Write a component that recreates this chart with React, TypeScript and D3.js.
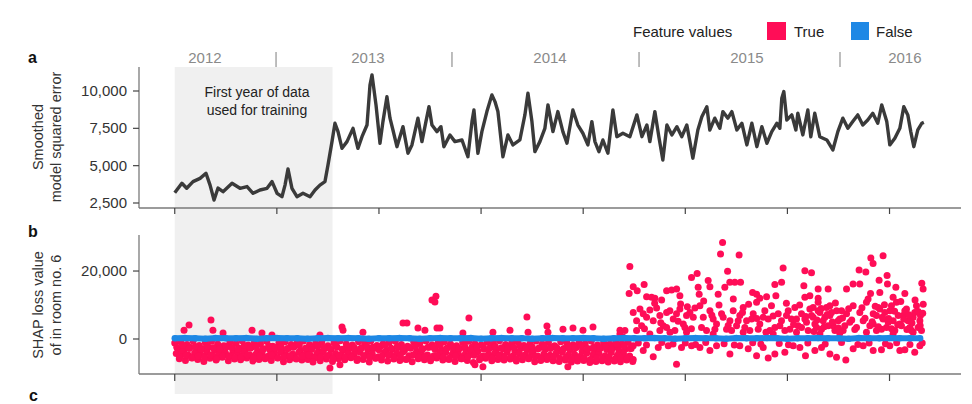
import React from "react";
import * as d3 from "d3";

// ---------- data ----------
const xTicks = [0, 1000, 2000, 3000, 4000, 5000, 6000, 7000];
const errorTicks = [2500, 5000, 7500, 10000];
const shapTicks = [0, 20];
const years = ["2012", "2013", "2014", "2015", "2016"];
const yearCenters = [296, 1892, 3675, 5604, 7150];
const yearSeparators = [992, 2715, 4547, 6515];
const trainingEnd = 1545;

// smoothed model squared error: [sample index, value]
const errorPoints: [number, number][] = [
[0,3190],[70,3820],[117,3485],[179,3930],[248,4150],[306,4490],[346,3700],[385,2700],[424,3500],[473,3260],[561,3820],[639,3485],[708,3600],[767,3150],[835,3370],[904,3485],[953,3930],[1002,3150],[1050,2920],[1080,3700],[1109,4780],[1148,3485],[1197,2920],[1256,3150],[1325,2920],[1374,3370],[1422,3700],[1471,3930],[1501,5050],[1540,6610],[1569,7840],[1599,7280],[1638,6160],[1687,6610],[1746,7500],[1794,6160],[1834,6940],[1883,7720],[1912,10400],[1932,11080],[1971,9070],[2010,6500],[2039,7950],[2078,9620],[2108,8180],[2137,7390],[2176,6270],[2235,7610],[2284,5830],[2323,6390],[2382,8180],[2421,6610],[2460,7950],[2490,8950],[2519,7720],[2568,7280],[2607,7610],[2636,6270],[2695,7060],[2744,6610],[2813,6720],[2871,5600],[2911,7950],[2930,8730],[2969,5830],[3008,7280],[3057,8620],[3106,9740],[3136,9290],[3165,8620],[3214,5600],[3263,7060],[3312,6390],[3380,6720],[3429,8400],[3459,9850],[3498,7950],[3527,5940],[3576,6610],[3625,7500],[3655,9070],[3704,7280],[3752,8620],[3801,7280],[3841,6500],[3899,8730],[3948,7720],[3997,7170],[4046,6390],[4085,7950],[4115,6610],[4154,5940],[4193,6720],[4242,5830],[4291,8730],[4330,6940],[4389,7170],[4457,6940],[4526,8400],[4575,6940],[4624,7720],[4653,6610],[4702,8620],[4741,6940],[4780,5380],[4820,7720],[4869,7060],[4918,7610],[4966,6940],[5015,7720],[5045,6610],[5074,5500],[5123,7390],[5162,8280],[5211,8950],[5240,7390],[5289,8180],[5338,7500],[5368,8620],[5417,8180],[5456,8620],[5505,7390],[5554,7840],[5603,6390],[5652,7840],[5701,6270],[5750,7610],[5799,6500],[5847,7280],[5896,7840],[5926,7500],[5945,9510],[5965,9960],[5994,8060],[6043,8400],[6083,7390],[6102,8510],[6151,7060],[6200,8730],[6229,6940],[6268,8510],[6317,6940],[6386,6720],[6445,6050],[6494,7280],[6543,8180],[6592,7500],[6640,7950],[6689,8400],[6738,7720],[6787,8060],[6836,8510],[6885,7840],[6924,9070],[6973,7950],[7003,6390],[7052,6840],[7101,7500],[7140,8950],[7179,8400],[7208,7280],[7238,6270],[7277,7390],[7316,7840],[7336,7900]
];

// SHAP values (thousands) for "True" during the dense period, sampled every 60 samples, six strata
const bandStep = 60;
const bandStarts = [0, 30, 15, 45, 20, 50];
const bandRow1 = [
-1.2,-0.8,-1.6,-0.6,-1.9,-1.1,-0.7,-1.5,-2.0,-0.9,-1.3,-0.5,-1.8,-1.0,-1.4,
-0.7,-2.1,-1.2,-0.8,-1.6,-1.0,-0.6,-1.7,-1.3,-0.9,-2.0,-1.1,-0.5,-1.5,-1.8,
-0.8,-1.2,-0.6,-1.9,-1.4,-1.0,-0.7,-1.6,-2.1,-0.9,-1.3,-0.6,-1.7,-1.1,-0.8,
-1.5,-2.0,-1.0,-0.7,-1.4,-1.8,-0.9,-1.2,-0.5,-1.6,-1.1,-0.8,-1.9,-1.3,-0.6,
-1.5,-1.0,-2.0,-0.8,-1.2,-1.7,-0.9,-1.4,-0.6,-1.8,-1.1,-1.5,-0.7,-1.3,-1.0];
const bandRow2 = [
-2.8,-3.3,-2.4,-3.6,-2.9,-2.5,-3.4,-3.0,-2.3,-3.5,-2.7,-3.1,-2.4,-3.6,-2.9,
-3.2,-2.6,-3.5,-2.8,-2.3,-3.4,-3.0,-2.5,-3.7,-2.7,-3.1,-2.4,-3.3,-2.9,-3.6,
-2.6,-3.2,-2.8,-2.3,-3.5,-3.0,-2.5,-3.4,-2.7,-3.6,-2.9,-2.4,-3.1,-3.3,-2.6,
-3.5,-2.8,-3.2,-2.4,-3.6,-3.0,-2.5,-3.3,-2.9,-2.3,-3.4,-2.7,-3.1,-3.6,-2.6,
-3.0,-2.4,-3.5,-2.8,-3.2,-2.5,-3.6,-2.9,-3.3,-2.7,-3.1,-2.4,-3.5,-3.0,-2.8];
const bandRow3 = [
-4.3,-3.9,-4.8,-4.1,-4.6,-3.8,-5.0,-4.4,-4.0,-4.9,-4.2,-3.7,-4.7,-4.5,-4.1,
-5.1,-4.3,-3.9,-4.8,-4.4,-4.0,-4.6,-5.0,-4.2,-3.8,-4.7,-4.3,-4.9,-4.1,-4.5,
-3.9,-4.8,-4.4,-5.2,-4.0,-4.6,-4.2,-3.8,-4.9,-4.5,-4.1,-4.7,-5.0,-4.3,-3.9,
-4.6,-4.2,-4.8,-4.4,-4.0,-5.1,-4.5,-4.1,-4.7,-3.8,-4.9,-4.3,-4.6,-4.0,-5.0,
-4.4,-4.8,-4.2,-3.9,-4.7,-4.5,-5.1,-4.1,-4.6,-4.3,-4.9,-4.0,-4.8,-4.4,-5.0];
const bandRow4 = [
-5.8,-6.3,-5.5,-6.0,-6.6,-5.7,-6.2,-5.4,-6.4,-5.9,-6.1,-5.6,-6.5,-6.0,-5.8,
-6.3,-5.5,-6.7,-6.1,-5.7,-6.2,-6.0,-5.6,-6.4,-5.9,-6.6,-5.8,-6.1,-5.5,-6.3,
-6.0,-6.8,-5.7,-6.2,-6.5,-5.9,-6.3,-6.0,-6.7,-5.8,-6.1,-6.4,-5.6,-6.2,-6.0,
-6.6,-5.8,-6.3,-6.9,-6.1,-5.7,-6.4,-6.0,-6.2,-5.9,-6.5,-6.1,-5.8,-6.7,-6.3,
-6.0,-6.4,-6.6,-6.2,-6.8,-6.5,-6.3,-6.9,-6.6,-6.4,-6.8,-6.5,-6.7,-6.2,-6.6];
const bandRow5 = [
-2.4,-1.9,-2.8,-2.2,-3.1,-2.0,-2.6,-2.9,-2.1,-2.5,-3.0,-1.9,-2.7,-2.3,-3.2,
-2.0,-2.6,-2.2,-2.9,-2.4,-1.8,-2.7,-3.1,-2.1,-2.5,-2.8,-2.0,-3.0,-2.3,-2.6,
-2.9,-2.1,-2.4,-3.2,-1.9,-2.7,-2.2,-2.8,-2.5,-2.0,-3.0,-2.4,-2.6,-1.9,-2.9,
-2.3,-2.7,-2.1,-3.1,-2.5,-2.0,-2.8,-2.2,-2.6,-3.0,-2.4,-1.9,-2.7,-2.3,-2.9,
-2.1,-2.8,-2.5,-3.1,-2.2,-2.6,-2.0,-2.9,-2.4,-2.7,-2.2,-3.0,-2.5,-2.1,-2.8];
const bandRow6 = [
-5.2,-4.8,-5.6,-5.0,-5.4,-4.7,-5.8,-5.1,-4.9,-5.5,-5.3,-4.6,-5.7,-5.0,-5.4,
-4.8,-5.6,-5.2,-4.9,-5.9,-5.1,-4.7,-5.5,-5.3,-5.0,-5.7,-4.8,-5.4,-5.2,-5.8,
-4.9,-5.3,-5.6,-5.0,-4.7,-5.5,-5.1,-5.9,-4.8,-5.4,-5.2,-5.7,-4.9,-5.3,-5.6,
-5.0,-5.8,-5.2,-4.8,-5.5,-5.1,-5.7,-4.9,-5.4,-5.3,-5.9,-5.0,-5.6,-5.2,-5.8,
-5.4,-5.1,-5.7,-5.5,-5.9,-5.3,-5.6,-6.0,-5.5,-5.8,-5.4,-5.9,-5.6,-5.7,-6.0];

// other "True" points: [sample index, SHAP value in thousands]
const trueOutliers: [number, number][] = [
[91,2.6],[140,4.1],[355,5.6],[374,2.6],[473,1.8],[757,2.6],[854,1.8],[952,1.2],[1422,1.2],[1638,3.5],[1648,2.6],[1843,2.0],[2235,4.7],[2274,4.7],[2382,3.2],[2450,2.6],[2519,11.5],[2558,12.6],[2548,10.9],[2568,3.2],[2597,3.2],[2822,1.8],[2881,6.2],[3116,2.0],[3283,2.6],[3449,6.5],[3460,2.0],[3645,3.8],[3655,2.0],[3802,2.9],[3900,3.2],[3998,2.6],[4096,3.5],[4360,2.6],
[1354,-6.8],[1520,-8.5],[1618,-7.6],[2940,-7.6],[3018,-8.2],[3850,-8.2]
];
const trueHigh: [number, number][] = [
[5365,28.4],[5345,25.0],[5527,24.7],[4457,21.3],[6937,24.5],[6817,23.8],[6839,22.2],[5958,20.9],[5414,19.9],[6171,20.1],[6236,19.5],[6702,20.3],[6768,19.7],[5061,18.1],[5116,19.3],[5224,17.2],[5241,15.4],[5126,15.2],[4490,15.4],[4450,13.4],[4529,14.2],[4597,16.0],[4621,12.4],[4670,12.3],[4702,12.0],[4768,11.5],[4817,14.2],[4866,14.4],[4915,14.7],[4947,12.7],[4954,10.3],[5136,13.2],[5322,13.2],[5387,15.2],[5436,16.7],[5485,16.7],[5541,16.7],[5659,13.7],[5698,13.2],[5730,12.0],[5796,12.4],[5877,16.0],[5943,16.7],[5887,12.7],[6161,15.7],[6171,12.3],[6220,12.7],[6301,14.7],[6301,12.0],[6399,14.7],[6579,14.7],[6643,16.2],[6709,16.2],[6814,13.4],[6898,17.3],[6976,18.7],[6980,16.2],[7062,15.2],[7150,13.4],[7316,16.4],[7329,14.7],[6905,13.7],[7035,12.3]
];
const trueMid: [number, number][] = [
[4490,7.8],[4523,5.4],[4556,8.8],[4588,7.4],[4621,6.4],[4653,8.5],[4686,5.4],[4719,9.1],[4751,6.9],[4784,3.9],[4817,7.8],[4849,8.3],[4882,5.9],[4914,7.4],[4947,8.8],[4980,4.4],[5012,6.9],[5045,7.8],[5094,9.1],[5143,9.8],[5176,6.4],[5208,2.5],[5241,8.3],[5273,5.9],[5306,4.4],[5355,7.4],[5404,2.9],[5437,5.4],[5469,8.3],[5502,3.9],[5534,6.9],[5567,9.3],[5600,5.4],[5632,2.5],[5665,7.4],[5698,10.8],[5730,4.4],[5779,8.3],[5812,5.9],[5844,9.8],[5877,3.4],[5910,7.4],[5942,5.4],[5975,2.5],[6008,8.3],[6040,5.9],[6073,9.3],[6105,3.9],[6138,7.4],[6187,4.9],[6220,8.8],[6252,6.4],[6285,3.4],[6318,7.8],[6350,5.4],[6383,9.3],[6416,6.9],[6448,3.9],[6481,8.3],[6513,5.9],[6546,2.5],[6579,7.4],[6611,4.9],[6644,9.8],[6677,3.4],[6709,7.8],[6742,5.4],[6774,10.8],[6807,3.9],[6840,7.4],[6872,2.5],[6905,8.8],[6937,5.9],[6970,3.4],[7003,8.3],[7035,5.4],[7068,10.8],[7101,4.4],[7133,6.9],[7166,8.8],[7199,3.4],[7231,6.4],[7264,9.8],[7297,5.4],[7313,2.5],
[6138,3.4],[6171,5.9],[6203,2.5],[6236,6.9],[6269,4.4],[6301,8.3],[6334,2.9],[6367,6.4],[6399,3.9],[6432,7.8],[6465,2.5],[6497,5.4],[6530,8.3],[6562,3.9],[6301,10.8],[6416,9.8],[6252,9.3],[6840,4.4],[6872,6.9],[6889,9.3],[6921,2.9],[6954,7.8],[6987,4.9],[7019,9.8],[7052,2.5],[7085,6.9],[7117,3.9],[7150,8.3],[7182,5.4],[7215,2.5],[7247,7.8],[7280,3.4],[7303,6.9],[4751,2.5],[4817,3.4],[4898,2.5],[4996,3.4],[5078,6.4],[5159,3.4],[5290,2.9],[5371,6.4],[5453,2.5],[5518,5.4],[5583,3.4],[5649,5.9],[5714,2.9],[5763,6.4],[5828,2.5],[5926,3.9],[5991,6.9],[6024,2.9],[6089,5.9],[4523,2.5],[4572,3.9],[4409,2.5],[4392,0.5],
[4600,3.0],[4700,10.5],[4760,4.8],[4850,2.0],[4930,5.2],[5020,9.5],[5060,3.0],[5180,11.2],[5260,7.0],[5330,10.0],[5420,4.0],[5470,11.8],[5560,7.8],[5620,10.2],[5700,6.0],[5790,2.0],[5860,6.8],[5990,10.5],[6060,4.3],[6120,10.0],[6180,6.6],[6260,2.2],[6290,5.6],[6330,9.0],[6360,3.6],[6390,7.2],[6440,5.0],[6470,10.6],[6500,3.2],[6540,6.2],[6600,8.9],[6630,5.6],[6660,2.8],[6730,9.2],[6760,6.1],[6790,11.8],[6830,5.1],[6860,9.6],[6890,3.6],[6930,6.4],[6950,10.1],[6990,6.0],[7020,3.0],[7050,8.2],[7080,4.2],[7110,11.0],[7140,5.8],[7170,2.8],[7190,7.1],[7220,4.7],[7250,11.5],[7280,8.1],[7300,4.0],[7325,7.6],[7330,10.2]
];
const trueLow: [number, number][] = [
[4490,-2.0],[4588,-3.4],[4686,-5.2],[4735,-2.5],[4914,-7.4],[4833,-2.0],[4963,-2.5],[5061,-2.0],[5143,-2.5],[5241,-3.4],[5306,-2.0],[5437,-4.4],[5534,-2.0],[5616,-2.9],[5698,-4.9],[5763,-2.5],[5812,-5.6],[5877,-4.4],[5975,-3.9],[6057,-2.0],[6122,-2.5],[6177,-4.9],[6269,-3.4],[6334,-2.5],[6416,-4.4],[6481,-5.4],[6572,-6.2],[6644,-2.9],[6742,-2.0],[6840,-3.4],[6921,-3.2],[7003,-2.0],[7101,-3.4],[7150,-3.2],[7247,-3.9],[7297,-2.0],
[4540,-1.2],[4620,-1.8],[4770,-1.0],[4880,-1.5],[5000,-1.2],[5100,-1.6],[5200,-1.0],[5380,-1.4],[5480,-1.8],[5660,-1.1],[5740,-1.5],[5920,-1.3],[6010,-1.7],[6200,-1.2],[6370,-1.5],[6530,-1.0],[6690,-1.6],[6800,-1.2],[6960,-1.4],[7070,-1.1],[7200,-1.6],[7320,-1.2],[4327,-1.5],
[4360,1.5],[4653,1.5],[5012,2.0],[5273,1.5],[5567,2.0],[5861,1.5],[6089,2.0],[6318,1.5],[6513,1.7],[6774,2.0],[7035,1.5],[7231,2.0]
];

// "False" SHAP values (thousands), sampled every 100 samples
const falseStep = 100;
const falseValues = [
0.2,0.3,0.2,0.1,0.3,0.2,0.2,0.3,0.1,0.2,
0.3,0.2,0.2,0.1,0.2,0.3,0.2,0.3,0.2,0.1,
0.2,0.2,0.3,0.2,0.1,0.2,0.3,0.2,0.2,0.3,
0.1,0.2,0.3,0.2,0.2,0.1,0.2,0.3,0.2,0.2,
0.3,0.2,0.1,0.2,0.3,0.2,0.2,0.3,0.2,0.1,
0.2,0.3,0.2,0.2,0.1,0.3,0.2,0.2,0.3,0.2,
0.1,0.2,0.2,0.3,0.2,0.2,0.1,0.3,0.2,0.2,
0.3,0.2,0.2,0.2];

const RED = "#ff0d57";
const BLUE = "#1e88e5";
const FONT = "'Liberation Sans', Arial, Helvetica, sans-serif";

export default function App() {
  const x = d3.scaleLinear().domain([-350, 7700]).range([139, 961]);
  const yA = d3.scaleLinear().domain([2165, 11540]).range([208, 68]);
  const yB = d3.scaleLinear().domain([-10.3, 30.6]).range([374, 235]);

  const line = d3
    .line<[number, number]>()
    .x((d) => x(d[0]))
    .y((d) => yA(d[1]));

  const bandRows = [bandRow1, bandRow2, bandRow3, bandRow4, bandRow5, bandRow6];
  const bandPts: [number, number][] = [];
  bandRows.forEach((row, r) =>
    row.forEach((v, i) => bandPts.push([bandStarts[r] + i * bandStep, v]))
  );
  const truePts = [...bandPts, ...trueOutliers, ...trueHigh, ...trueMid, ...trueLow];
  const falsePts: [number, number][] = falseValues.map((v, i) => [i * falseStep, v]);
  const falseLine = d3
    .line<[number, number]>()
    .x((d) => x(d[0]))
    .y((d) => yB(d[1]));

  const fmt = d3.format(",");
  const axisColor = "#7a7a7a";

  return (
    <svg
      width={972}
      height={404}
      style={{ position: "absolute", left: 0, top: 0, background: "#fff" }}
      fontFamily={FONT}
    >
      {/* training shading */}
      <rect x={x(0)} y={67} width={x(trainingEnd) - x(0)} height={327} fill="#f0f0f0" />

      {/* legend */}
      <text x={633} y={37} fontSize={15} fill="#222">Feature values</text>
      <rect x={767} y={22} width={19} height={18} fill={RED} />
      <text x={794} y={37} fontSize={15} fill="#222">True</text>
      <rect x={851} y={22} width={18} height={18} fill={BLUE} />
      <text x={876} y={37} fontSize={15} fill="#222">False</text>

      {/* years */}
      {years.map((yr, i) => (
        <text key={yr} x={x(yearCenters[i])} y={63} fontSize={15} fill="#8a8a8a" textAnchor="middle">
          {yr}
        </text>
      ))}
      {yearSeparators.map((s) => (
        <line key={s} x1={x(s)} x2={x(s)} y1={52} y2={67} stroke="#9a9a9a" strokeWidth={1.3} />
      ))}

      {/* panel labels */}
      <text x={28} y={63} fontSize={16} fontWeight="bold" fill="#111">a</text>
      <text x={28} y={237} fontSize={16} fontWeight="bold" fill="#111">b</text>
      <text x={29} y={401} fontSize={16} fontWeight="bold" fill="#111">c</text>

      {/* panel a y label */}
      <g transform="translate(43,137) rotate(-90)">
        <text x={0} y={0} fontSize={14.5} fill="#333" textAnchor="middle">Smoothed</text>
      </g>
      <g transform="translate(61,137) rotate(-90)">
        <text x={0} y={0} fontSize={14.5} fill="#333" textAnchor="middle">model squared error</text>
      </g>
      {/* panel b y label */}
      <g transform="translate(43,305) rotate(-90)">
        <text x={0} y={0} fontSize={14.5} fill="#333" textAnchor="middle">SHAP loss value</text>
      </g>
      <g transform="translate(61,305) rotate(-90)">
        <text x={0} y={0} fontSize={14.5} fill="#333" textAnchor="middle">of in room no. 6</text>
      </g>

      {/* annotation */}
      <text x={257} y={97} fontSize={14} fill="#222" textAnchor="middle">First year of data</text>
      <text x={257} y={115} fontSize={14} fill="#222" textAnchor="middle">used for training</text>

      {/* panel a axes */}
      <line x1={139} x2={139} y1={67} y2={208} stroke={axisColor} strokeWidth={1.3} />
      <line x1={139} x2={961} y1={208} y2={208} stroke={axisColor} strokeWidth={1.3} />
      {errorTicks.map((t) => (
        <g key={t}>
          <line x1={133} x2={139} y1={yA(t)} y2={yA(t)} stroke="#444" strokeWidth={1.2} />
          <text x={127} y={yA(t) + 5} fontSize={15} fill="#333" textAnchor="end">{fmt(t)}</text>
        </g>
      ))}
      {xTicks.map((t) => (
        <line key={"a" + t} x1={x(t)} x2={x(t)} y1={208} y2={214} stroke="#444" strokeWidth={1.2} />
      ))}

      {/* panel a line */}
      <path d={line(errorPoints) || ""} fill="none" stroke="#3a3a3a" strokeWidth={3.4} strokeLinejoin="round" />

      {/* panel b axes */}
      <line x1={139} x2={139} y1={235} y2={374} stroke={axisColor} strokeWidth={1.3} />
      <line x1={139} x2={961} y1={374} y2={374} stroke={axisColor} strokeWidth={1.3} />
      {shapTicks.map((t) => (
        <g key={t}>
          <line x1={133} x2={139} y1={yB(t)} y2={yB(t)} stroke="#444" strokeWidth={1.2} />
          <text x={127} y={yB(t) + 5} fontSize={15} fill="#333" textAnchor="end">{fmt(t * 1000)}</text>
        </g>
      ))}
      {xTicks.map((t) => (
        <line key={"b" + t} x1={x(t)} x2={x(t)} y1={374} y2={381} stroke="#444" strokeWidth={1.2} />
      ))}

      {/* True points */}
      <g fill={RED}>
        {truePts.map((d, i) => (
          <circle key={i} cx={x(d[0])} cy={yB(d[1])} r={3.5} />
        ))}
      </g>
      {/* False points */}
      <path d={falseLine(falsePts) || ""} fill="none" stroke={BLUE} strokeWidth={6} />
      <g fill={BLUE}>
        {falsePts.map((d, i) => (
          <circle key={i} cx={x(d[0])} cy={yB(d[1])} r={3.2} />
        ))}
      </g>
    </svg>
  );
}
